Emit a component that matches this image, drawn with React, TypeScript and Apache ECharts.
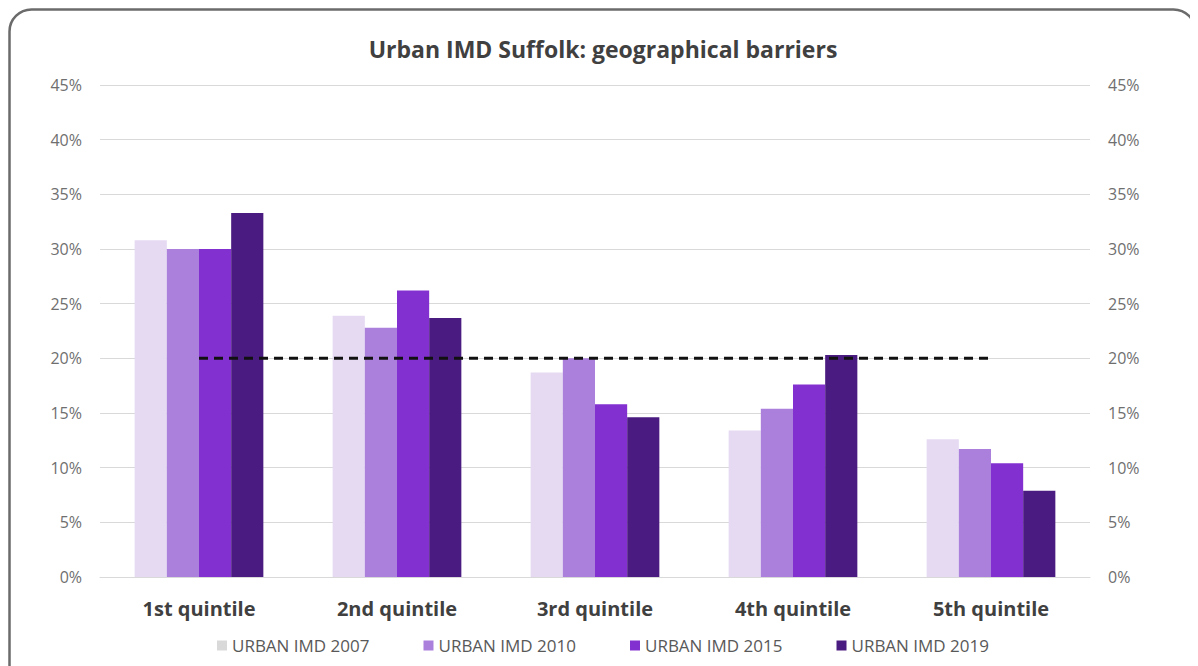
import React, { useEffect, useRef } from "react";
import * as echarts from "echarts";

const categories = ["1st quintile", "2nd quintile", "3rd quintile", "4th quintile", "5th quintile"];
const seriesNames = ["URBAN IMD 2007", "URBAN IMD 2010", "URBAN IMD 2015", "URBAN IMD 2019"];
const imd2007 = [30.8, 23.9, 18.7, 13.4, 12.6];
const imd2010 = [30.0, 22.8, 20.0, 15.4, 11.7];
const imd2015 = [30.0, 26.2, 15.8, 17.6, 10.4];
const imd2019 = [33.3, 23.7, 14.6, 20.3, 7.9];
const reference = [20, 20, 20, 20, 20];
const colors = ["#e6daf3", "#ab7fdc", "#8330d0", "#4a1b80"];
const legendColors = ["#d9d9d9", "#ab7fdc", "#8330d0", "#4a1b80"];

export default function App() {
  const ref = useRef<HTMLDivElement>(null);
  useEffect(() => {
    if (!ref.current) return;
    const chart = echarts.init(ref.current, undefined, { renderer: "svg" });
    const font = "'Open Sans', 'Noto Sans', sans-serif";
    const values = [imd2007, imd2010, imd2015, imd2019];
    const yAxisCommon = {
      type: "value" as const,
      min: 0,
      max: 45,
      interval: 5,
      axisLine: { show: false },
      axisTick: { show: false },
      axisLabel: { formatter: "{value}%", color: "#6f6f6f", fontSize: 16, fontFamily: font, margin: 18 },
      splitLine: { lineStyle: { color: "#d9d9d9", width: 1 } },
    };
    chart.setOption({
      animation: false,
      textStyle: { fontFamily: font },
      title: {
        text: "Urban IMD Suffolk: geographical barriers",
        left: "center",
        top: 24,
        textStyle: { fontSize: 23, fontWeight: "bold", color: "#404040", fontFamily: font },
      },
      grid: { left: 92, right: 108, top: 77, bottom: 89 },
      legend: {
        data: seriesNames.map((n, i) => ({ name: n, itemStyle: { color: legendColors[i] } })),
        bottom: 7,
        left: "center",
        icon: "rect",
        itemWidth: 10,
        itemHeight: 10,
        itemGap: 54,
        textStyle: { color: "#595959", fontSize: 17, fontFamily: font },
      },
      xAxis: {
        type: "category",
        data: categories,
        axisLine: { lineStyle: { color: "#d9d9d9" } },
        axisTick: { show: false },
        axisLabel: { color: "#404040", fontSize: 20, fontWeight: "bold", fontFamily: font, margin: 21 },
      },
      yAxis: [yAxisCommon, { ...yAxisCommon, position: "right" }],
      graphic: [
        {
          type: "rect",
          shape: { x: 1.5, y: 1.5, width: 1186, height: 720, r: 22 },
          style: { fill: "none", stroke: "#6b6b6b", lineWidth: 2.5 },
          silent: true,
        },
      ],
      series: [
        ...seriesNames.map((n, i) => ({
          name: n,
          type: "bar",
          data: values[i],
          barGap: "0%",
          barCategoryGap: "35%",
          itemStyle: { color: colors[i] },
        })),
        {
          name: "Reference",
          type: "line",
          data: reference,
          symbol: "none",
          lineStyle: { color: "#111", width: 3, type: [9, 6] },
          z: 5,
        },
      ],
    });
    return () => chart.dispose();
  }, []);
  return <div ref={ref} style={{ width: 1190, height: 658 }} />;
}
